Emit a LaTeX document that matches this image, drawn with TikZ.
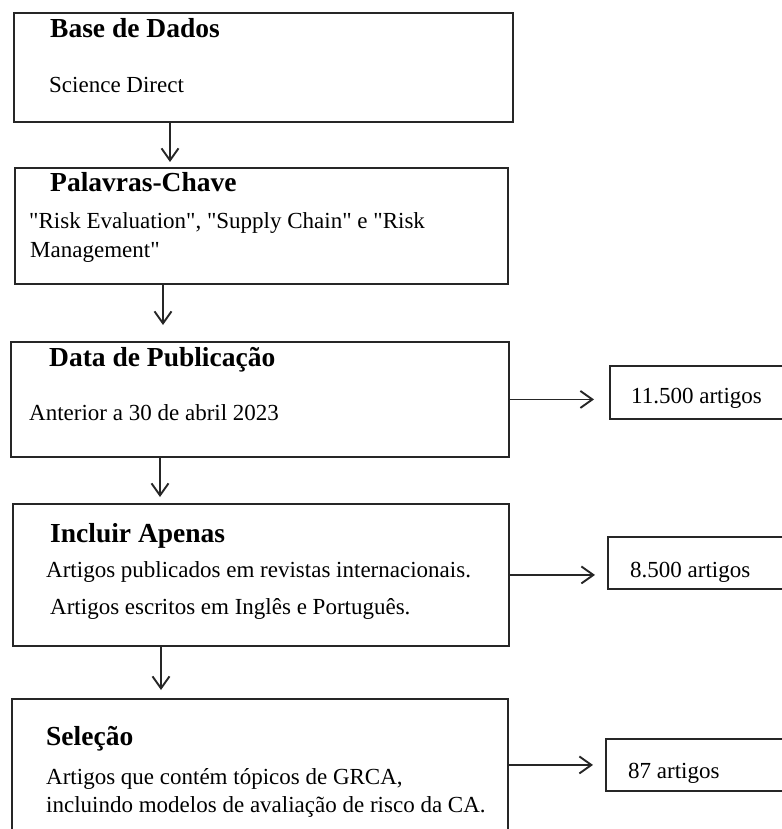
\documentclass[tikz,border=0pt]{standalone}
\usepackage{fontspec}
\setmainfont{Liberation Serif}
\usetikzlibrary{arrows.meta,positioning}

\tikzset{
  caixa/.style={draw=black!85, line width=1.9pt, rectangle, inner sep=0pt, anchor=north west},
  titulo/.style={anchor=base west, inner sep=0pt, font=\fontsize{27.5}{32}\selectfont\bfseries},
  texto/.style={anchor=base west, inner sep=0pt, font=\fontsize{23}{28}\selectfont},
  seta/.style={draw=black!85, line width=1.9pt, -{Straight Barb[length=12pt,width=17pt,line width=1.9pt]}},
}
\newcommand{\aspas}{\textquotedbl}

\begin{document}
\begin{tikzpicture}[x=1pt,y=-1pt]
    \useasboundingbox (0,0) rectangle (781,829);
    % etapas da pesquisa
    \node[caixa, minimum width=499pt, minimum height=109pt] (base) at (13,12) {};
    \node[caixa, minimum width=493pt, minimum height=116pt] (chave) at (14,167) {};
    \node[caixa, minimum width=498pt, minimum height=115pt] (data) at (10,341) {};
    \node[caixa, minimum width=496pt, minimum height=142pt] (incluir) at (12,503) {};
    \node[caixa, minimum width=496pt, minimum height=170pt] (selecao) at (11,698) {};
    % resultados
    \node[caixa, minimum width=200pt, minimum height=53pt] (res1) at (609,365) {};
    \node[caixa, minimum width=200pt, minimum height=52pt] (res2) at (607,536) {};
    \node[caixa, minimum width=200pt, minimum height=52pt] (res3) at (605,738) {};

    \node[titulo] (tbase) at (50,38) {Base de Dados};
    \node[texto] (sd) at (49,93) {Science Direct};
    \node[titulo] (tchave) at (50,192) {Palavras-Chave};
    \node[texto] (kw1) at (29,228) {\aspas Risk Evaluation\aspas, \aspas Supply Chain\aspas{} e \aspas Risk};
    \node[texto] (kw2) at (30,257) {Management\aspas};
    \node[titulo] (tdata) at (49,366) {Data de Publicação};
    \node[texto] (ant) at (29,420) {Anterior a 30 de abril 2023};
    \node[titulo] (tincl) at (50,542) {Incluir Apenas};
    \node[texto] (inc1) at (46,577) {Artigos publicados em revistas internacionais.};
    \node[texto] (inc2) at (50,614) {Artigos escritos em Inglês e Português.};
    \node[titulo] (tsel) at (46,745) {Seleção};
    \node[texto] (sel1) at (46,784) {Artigos que contém tópicos de GRCA,};
    \node[texto] (sel2) at (46,812) {incluindo modelos de avaliação de risco da CA.};
    \node[texto] (n1) at (631,403) {11.500 artigos};
    \node[texto] (n2) at (630,577) {8.500 artigos};
    \node[texto] (n3) at (628,778) {87 artigos};

    % setas
    \draw[seta, shorten >=5pt] (base.south -| 170,0) -- (chave.north -| 170,0);
    \draw[seta, shorten >=16pt] (chave.south -| 163,0) -- (data.north -| 163,0);
    \draw[seta, shorten >=6pt] (data.south -| 160,0) -- (incluir.north -| 160,0);
    \draw[seta, shorten >=8pt] (incluir.south -| 161,0) -- (selecao.north -| 161,0);
    \draw[seta, shorten >=15pt] (data.east) -- (data.east -| res1.west);
    \draw[seta, shorten >=12pt] (incluir.east) -- (incluir.east -| res2.west);
    \draw[seta, shorten >=12pt] (res3.west -| selecao.east) -- (res3.west);
\end{tikzpicture}
\end{document}
